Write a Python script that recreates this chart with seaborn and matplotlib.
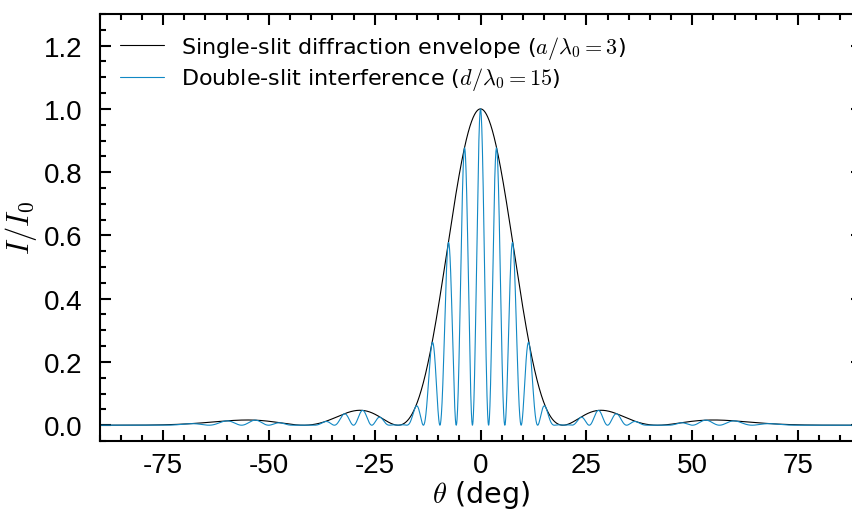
import numpy as np
import pandas as pd
import seaborn as sns
import matplotlib
matplotlib.use("Agg")
import matplotlib.pyplot as plt
from matplotlib.ticker import MultipleLocator

# Parameters
slit_width_ratio = 3      # a / lambda0
slit_spacing_ratio = 15   # d / lambda0
theta_min, theta_max = -90, 90

x_ticks = [-75, -50, -25, 0, 25, 50, 75]
y_ticks = [0.0, 0.2, 0.4, 0.6, 0.8, 1.0, 1.2]

theta = np.linspace(theta_min, theta_max, 6001)
s = np.sin(np.deg2rad(theta))
envelope = np.sinc(slit_width_ratio * s) ** 2
interference = envelope * np.cos(np.pi * slit_spacing_ratio * s) ** 2

df = pd.DataFrame({"theta": theta, "env": envelope, "dbl": interference})

sns.set_style("white")
plt.rcParams["mathtext.fontset"] = "cm"
plt.rcParams["font.family"] = ["DejaVu Sans"]
plt.rcParams["text.color"] = "black"
plt.rcParams["axes.labelcolor"] = "black"
plt.rcParams["xtick.color"] = "black"
plt.rcParams["ytick.color"] = "black"

fig = plt.figure(figsize=(8.52, 5.10), dpi=100)
ax = fig.add_axes([0.1168, 0.1333, 0.8944, 0.8373])

sns.lineplot(data=df, x="theta", y="env", ax=ax, color="black", linewidth=0.8,
             label=r"Single-slit diffraction envelope ($a/\lambda_0=3$)")
sns.lineplot(data=df, x="theta", y="dbl", ax=ax, color="#1188C4", linewidth=0.8,
             label=r"Double-slit interference ($d/\lambda_0=15$)")

ax.set_xlim(theta_min, theta_max)
ax.set_ylim(-0.05, 1.3)
ax.set_xticks(x_ticks)
ax.set_yticks(y_ticks)
ax.set_xticklabels([str(t) for t in x_ticks], fontfamily="Liberation Sans", fontsize=20)
ax.set_yticklabels([f"{t:.1f}" for t in y_ticks], fontfamily="Liberation Sans", fontsize=20)
ax.xaxis.set_minor_locator(MultipleLocator(5))
ax.yaxis.set_minor_locator(MultipleLocator(0.05))
ax.tick_params(which="both", direction="in", top=True, right=True, bottom=True, left=True,
               width=1.5, colors="black")
ax.tick_params(which="major", length=8)
ax.tick_params(which="minor", length=4)
ax.tick_params(axis="x", which="major", pad=8)
ax.tick_params(axis="y", which="major", pad=12)
for sp in ax.spines.values():
    sp.set_linewidth(1.5)
    sp.set_color("black")

ax.set_xlabel(r"$\theta$ (deg)", fontsize=20.5, labelpad=0)
ax.set_ylabel(r"$I/I_0$", fontsize=22, labelpad=4)

leg = ax.legend(loc="upper left", frameon=False, fontsize=16, handlelength=2.0,
                borderaxespad=0.5, labelspacing=0.2, handletextpad=0.75)

fig.savefig("out.png", dpi=100)
